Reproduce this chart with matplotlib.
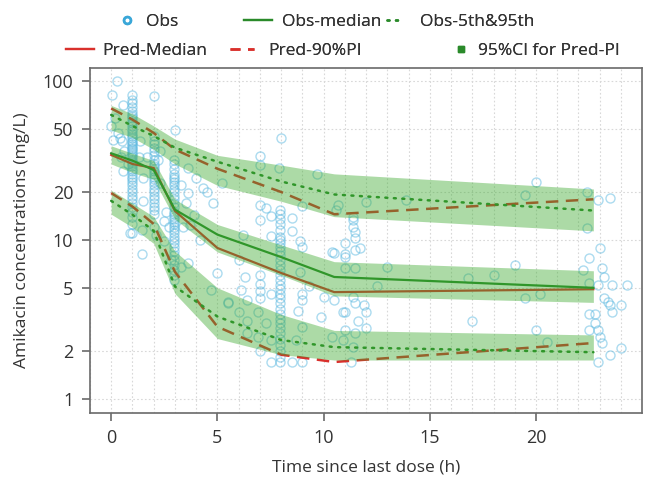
import matplotlib
matplotlib.use("Agg")
import matplotlib.pyplot as plt
from matplotlib.lines import Line2D
from matplotlib.ticker import FixedLocator, MultipleLocator, NullLocator, FixedFormatter

plt.rcParams['font.family'] = ['Open Sans', 'DejaVu Sans']

# time bins for the VPC summaries (h)
bin_time = [0, 1, 2, 3, 5, 8, 10.5, 22.7]

# observed percentiles (mg/L)
obs_median = [35, 31.5, 27.5, 15.5, 10.8, 7.8, 5.85, 5.0]
obs_p95 = [61, 52, 45, 38, 31, 23.3, 19.3, 15.3]
obs_p5 = [17.6, 14.4, 11.4, 5.1, 3.3, 2.35, 2.12, 1.97]

# predicted percentiles (mg/L)
pred_median = [34.2, 30, 28.3, 15.2, 8.9, 6.2, 4.7, 4.9]
pred_p95 = [67, 57, 47, 37, 28, 20, 14.5, 18]
pred_p5 = [19.7, 16.2, 12.6, 6.3, 2.85, 1.9, 1.71, 2.25]

# 95% CI of the predicted percentiles
ci_hi_top = [70, 62, 52, 43, 34, 29.5, 26, 20.9]
ci_hi_bot = [49, 44, 37, 30, 22, 17.5, 14, 11.4]
ci_mid_top = [39, 35, 31.5, 18, 12.5, 9.3, 7.3, 6.4]
ci_mid_bot = [30, 26.5, 24, 13.5, 8.4, 6.0, 4.45, 4.05]
ci_lo_top = [20.5, 17, 14, 8.5, 5.0, 3.4, 2.7, 2.53]
ci_lo_bot = [14.5, 12, 9.5, 4.6, 2.4, 1.9, 1.76, 1.76]

# observations sampled at nominal times (vertical stacks)
col1_conc = [81, 76, 72, 68, 65, 62, 60, 58, 56, 54, 52, 50, 48, 46, 45, 44, 42, 41,
             40, 39, 38, 37, 36, 35, 34, 33, 32, 31, 30, 29, 28, 27, 26, 25, 24, 23,
             22, 21, 20, 19, 18, 17, 16, 15, 14, 12.5, 11]
col2_conc = [45, 42, 40, 38, 36, 34, 32, 30, 29, 28, 27, 26, 25, 24, 23, 22, 21, 20,
             19, 18, 17, 16, 15.5, 14.5, 12]
col3_conc = [32, 30, 28, 26, 25, 24, 23, 22, 21, 20, 19, 18, 17, 16, 15, 14.5, 14,
             13.5, 13, 12.5, 12, 11.5, 11, 10.5, 10, 9.5, 9, 8.5, 8, 7.5, 7, 6.5, 6, 5.6]
col8_conc = [15.5, 14.5, 13.5, 12.5, 11.5, 10.5, 10, 9.5, 9, 8.5, 8, 7.5, 7, 6.5, 6,
             5.6, 5.2, 4.9, 4.6, 4.3, 4.0, 3.7, 3.4, 3.2, 3.0, 2.8, 2.6, 2.4, 2.2, 2.0,
             1.85, 1.7]

# other observations
obs_t = [0.28, 0.05, 0.57, 0.3, 0.1, 0.5, 0.4, 0.2, 0.6, 0.0, 0.45,
         1.37, 1.5, 1.5, 0.9, 1.45, 1.45, 0.57, 1.3, 0.8,
         2.3, 2.2, 2.3, 2.1, 2.5, 2.5, 2.0, 1.7, 2.6, 2.7, 2.8, 3.0,
         3.6, 4.0, 4.3, 3.6, 3.9, 3.7, 3.3, 3.5, 3.4, 3.6, 3.3, 4.2, 4.5, 4.8, 4.7, 5.5, 5.0, 5.2,
         6.0, 6.3, 6.1, 6.4, 5.5, 6.0, 6.4, 6.9, 7.3, 6.4, 6.9, 7.5, 7.5, 6.2, 7.0, 7.0, 7.0,
         7.3, 7.0, 7.5, 7.5, 7.0, 7.0, 7.0, 7.0, 7.5, 7.0, 8.0, 7.9,
         8.5, 9.0, 8.5, 8.9, 9.7, 10.7, 8.5, 9.0, 9.0, 8.8, 9.0, 9.3, 8.9, 9.0, 10.4, 10.5,
         10.0, 9.9, 10.4, 10.9, 10.9, 8.7, 9.0,
         11.4, 11.5, 11.5, 11.0, 11.7, 11.5, 11.0, 11.0, 11.5, 13.0, 12.5, 11.4, 11.5, 11.9,
         12.0, 11.0, 11.6, 12.0, 11.0, 11.5, 11.4, 11.3, 12.0, 13.9, 10.6, 11.4, 11.4, 10.5, 11.0,
         16.8, 17.0, 20.0, 19.5, 19.0, 18.0, 19.5, 20.2, 20.0, 20.5,
         22.4, 22.9, 23.5, 22.4, 23.0, 22.5, 23.1, 22.2, 23.2, 22.9, 23.6, 24.3, 22.5, 23.5,
         24.0, 23.6, 22.5, 22.8, 22.8, 22.5, 22.9, 23.0, 23.1, 24.0, 23.5, 22.9, 23.2, 23.4]
obs_c = [100, 81, 70, 47, 42.5, 41.8, 44, 58, 36, 52, 33,
         41.8, 24.6, 17.6, 11.1, 11.6, 8.1, 27.2, 33, 30,
         36.3, 31.8, 22.9, 10.7, 9.8, 13.2, 80, 33, 15, 12, 7.5, 49,
         28.3, 24.6, 21.2, 19.7, 14.4, 12.4, 22, 17, 12, 7.2, 6.8, 10, 20, 17, 4.85, 4.1, 6.2, 22.9,
         7.5, 5.85, 4.85, 4.2, 4.0, 3.5, 3.1, 3.5, 3.0, 2.6, 2.45, 2.35, 1.7, 10.8, 33.7, 29.7, 16.6,
         15.9, 13.4, 14.1, 10.6, 6.0, 5.3, 4.8, 4.3, 4.6, 2.0, 44, 28.3,
         13.8, 16.4, 11.4, 9.9, 26, 16.6, 1.7, 1.7, 2.85, 3.6, 4.2, 5.1, 6.3, 9.0, 8.4, 4.2,
         4.4, 3.3, 2.45, 3.5, 2.35, 2.35, 4.6,
         13.4, 11.2, 10.3, 9.6, 8.9, 8.7, 8.1, 6.7, 6.7, 6.8, 5.1, 4.4, 4.0, 3.9,
         3.5, 3.5, 3.1, 2.8, 2.7, 2.6, 2.12, 1.7, 17.3, 17.8, 15.4, 14, 12, 8.3, 7.8,
         5.8, 3.1, 23.2, 19.2, 7.0, 6.0, 4.3, 4.6, 2.7, 2.3,
         20, 17.9, 18.4, 11.9, 8.9, 7.7, 6.7, 6.5, 5.85, 5.2, 5.2, 5.2, 5.35, 3.9,
         3.9, 3.5, 3.4, 3.4, 3.0, 2.7, 2.7, 2.45, 2.25, 2.1, 1.9, 1.7, 4.3, 4.1]

y_ticks = [1, 2, 5, 10, 20, 50, 100]

blue = '#5ab8e0'
green = '#2a8a2a'
red = '#d9302c'
band = '#3aa92c'
txt = '#333333'
edge = '#6a6a6a'
dots = (0, (0.8, 2.6))
dash = (0, (5, 3))

fig = plt.figure(figsize=(6.52, 4.8), dpi=100)
ax = fig.add_axes([0.138, 0.140, 0.847, 0.718])

# observations
circ = dict(marker='o', ls='none', ms=6.5, mfc='none', mec=blue, mew=1.0, alpha=0.5, zorder=1)
ax.plot([1.0] * len(col1_conc), col1_conc, **circ)
ax.plot([2.0] * len(col2_conc), col2_conc, **circ)
ax.plot([2.95] * len(col3_conc), col3_conc, **circ)
ax.plot([7.95] * len(col8_conc), col8_conc, **circ)
ax.plot(obs_t, obs_c, **circ)

# predicted and observed percentiles
ax.plot(bin_time, pred_median, color=red, lw=1.6, zorder=2)
ax.plot(bin_time, pred_p95, color=red, lw=1.8, ls=dash, zorder=2)
ax.plot(bin_time, pred_p5, color=red, lw=1.8, ls=dash, zorder=2)
ax.plot(bin_time, obs_median, color=green, lw=1.6, zorder=2)
ax.plot(bin_time, obs_p95, color=green, lw=1.8, ls=dots, dash_capstyle='round', zorder=2)
ax.plot(bin_time, obs_p5, color=green, lw=1.8, ls=dots, dash_capstyle='round', zorder=2)

# confidence bands
for lo, hi in [(ci_hi_bot, ci_hi_top), (ci_mid_bot, ci_mid_top), (ci_lo_bot, ci_lo_top)]:
    ax.fill_between(bin_time, lo, hi, color=band, alpha=0.42, lw=0, zorder=3)

ax.set_yscale('log')
ax.set_xlim(-1, 25)
ax.set_ylim(0.82, 120)
ax.yaxis.set_major_locator(FixedLocator(y_ticks))
ax.yaxis.set_major_formatter(FixedFormatter([str(v) for v in y_ticks]))
ax.yaxis.set_minor_locator(NullLocator())
ax.xaxis.set_major_locator(MultipleLocator(5))
ax.xaxis.set_minor_locator(MultipleLocator(1))
ax.set_xticks([0, 5, 10, 15, 20])

ax.grid(True, which='major', axis='y', color='#d8d8d8', ls=(0, (1.5, 2)), lw=0.8)
ax.grid(True, which='both', axis='x', color='#d8d8d8', ls=(0, (1.5, 2)), lw=0.8)
ax.set_axisbelow(True)
ax.tick_params(axis='x', which='minor', length=0)
ax.tick_params(which='major', length=6, width=1.2, color=edge, labelsize=13, labelcolor=txt, pad=6)
for s in ax.spines.values():
    s.set_color(edge)
    s.set_linewidth(1.2)

ax.set_xlabel('Time since last dose (h)', fontsize=12.5, color=txt, labelpad=9)
ax.set_ylabel('Amikacin concentrations (mg/L)', fontsize=12.5, color=txt, labelpad=9)

# legend: one small legend per entry, two rows above the axes
entries = [
    (Line2D([], [], marker='o', ls='none', ms=5, mfc='none', mec='#3aa7d8', mew=1.8),
     'Obs', 118, 22, 1.0, 0.63),
    (Line2D([], [], color=green, lw=1.6), 'Obs-median', 244, 22, 1.6, 0.57),
    (Line2D([], [], color=green, lw=1.8, ls=dots, dash_capstyle='round'),
     'Obs-5th&95th', 387, 22, 1.0, 0.9),
    (Line2D([], [], color=red, lw=1.6), 'Pred-Median', 66, 51, 1.6, 0.5),
    (Line2D([], [], color=red, lw=1.8, ls=(0, (4, 3))), 'Pred-90%PI', 230, 51, 1.4, 0.8),
    (Line2D([], [], marker='s', ls='none', ms=5, color=green), '95%CI for Pred-PI', 452, 51, 1.0, 0.5),
]
for handle, label, px, py, hlen, hpad in entries:
    leg = fig.legend([handle], [label], loc='center left',
                     bbox_to_anchor=(px / 652, 1 - py / 480), frameon=False, fontsize=12.5,
                     borderpad=0, borderaxespad=0, handlelength=hlen, handletextpad=hpad,
                     labelcolor=txt)
    fig.add_artist(leg)

fig.savefig('out.png', dpi=100)
